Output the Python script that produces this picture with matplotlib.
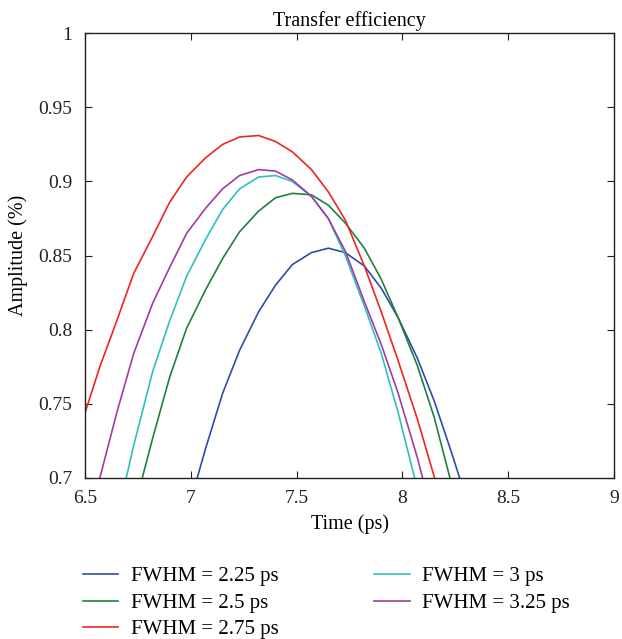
import matplotlib
matplotlib.use("Agg")
import matplotlib.pyplot as plt

# sample times (ps) shared by all curves
t = [6.48, 6.57, 6.65, 6.73, 6.82, 6.90, 6.98, 7.07, 7.15, 7.23, 7.32, 7.40,
     7.48, 7.57, 7.65, 7.73, 7.82, 7.90, 7.98, 8.07, 8.15, 8.23, 8.32]

# amplitudes, one list per FWHM (None = off-scale, not drawn)
amp_225 = [None, None, None, None, None, None, 0.675, 0.720, 0.757, 0.786,
           0.812, 0.830, 0.844, 0.852, 0.855, 0.852, 0.843, 0.828, 0.808,
           0.781, 0.752, 0.718, 0.678]
amp_250 = [None, None, None, 0.678, 0.727, 0.768, 0.801, 0.827, 0.848, 0.866,
           0.880, 0.889, 0.892, 0.891, 0.884, 0.872, 0.855, 0.834, 0.808,
           0.776, 0.741, 0.697, None]
amp_275 = [0.735, 0.775, 0.806, 0.838, 0.863, 0.886, 0.903, 0.916, 0.925,
           0.930, 0.931, 0.927, 0.920, 0.908, 0.893, 0.874, 0.843, 0.812,
           0.779, 0.740, 0.701, 0.660, None]
amp_300 = [None, None, 0.672, 0.722, 0.772, 0.806, 0.836, 0.861, 0.881, 0.895,
           0.903, 0.904, 0.900, 0.890, 0.875, 0.850, 0.816, 0.784, 0.744,
           0.693, None, None, None]
amp_325 = [0.655, 0.700, 0.744, 0.784, 0.818, 0.842, 0.865, 0.882, 0.895,
           0.904, 0.908, 0.907, 0.901, 0.890, 0.875, 0.853, 0.819, 0.790,
           0.757, 0.714, 0.670, None, None]

labels = ["FWHM = 2.25 ps", "FWHM = 2.5 ps", "FWHM = 2.75 ps",
          "FWHM = 3 ps", "FWHM = 3.25 ps"]
colors = ["#2f4da6", "#1f8040", "#ef2424", "#2ec0c0", "#a03ca0"]

plt.rcParams["font.family"] = ["Liberation Serif", "DejaVu Serif"]
plt.rcParams["font.size"] = 14

fig = plt.figure(figsize=(6.22, 6.39), dpi=100)
ax = fig.add_axes([0.1367, 0.252, 0.8505, 0.696])

series = [amp_225, amp_250, amp_275, amp_300, amp_325]
for amp, lab, col in zip(series, labels, colors):
    xs = [x for x, y in zip(t, amp) if y is not None]
    ys = [y for y in amp if y is not None]
    ax.plot(xs, ys, color=col, lw=1.2, label=lab)

ax.set_xlim(6.5, 9)
ax.set_ylim(0.7, 1)
ax.set_xticks([6.5, 7, 7.5, 8, 8.5, 9])
ax.set_xticklabels(["6.5", "7", "7.5", "8", "8.5", "9"])
ax.set_yticks([0.7, 0.75, 0.8, 0.85, 0.9, 0.95, 1])
ax.set_yticklabels(["0.7", "0.75", "0.8", "0.85", "0.9", "0.95", "1"])
ax.tick_params(direction="in", top=True, right=True, length=5, width=0.8,
               pad=9, labelsize=14, colors="#222222")
for s in ax.spines.values():
    s.set_linewidth(1.0)
    s.set_color("#222222")

ax.set_title("Transfer efficiency", fontsize=14.5, pad=5)
ax.set_xlabel("Time (ps)", fontsize=14.5, labelpad=5)
ax.set_ylabel("Amplitude (%)", fontsize=14.5, labelpad=8)

fig.legend(loc="upper left", bbox_to_anchor=(0.133, 0.113), ncol=2,
           frameon=False, fontsize=15, handlelength=1.7, handletextpad=0.6,
           columnspacing=4.6, labelspacing=0.33, borderaxespad=0,
           borderpad=0)

fig.savefig("out.png", dpi=100)
